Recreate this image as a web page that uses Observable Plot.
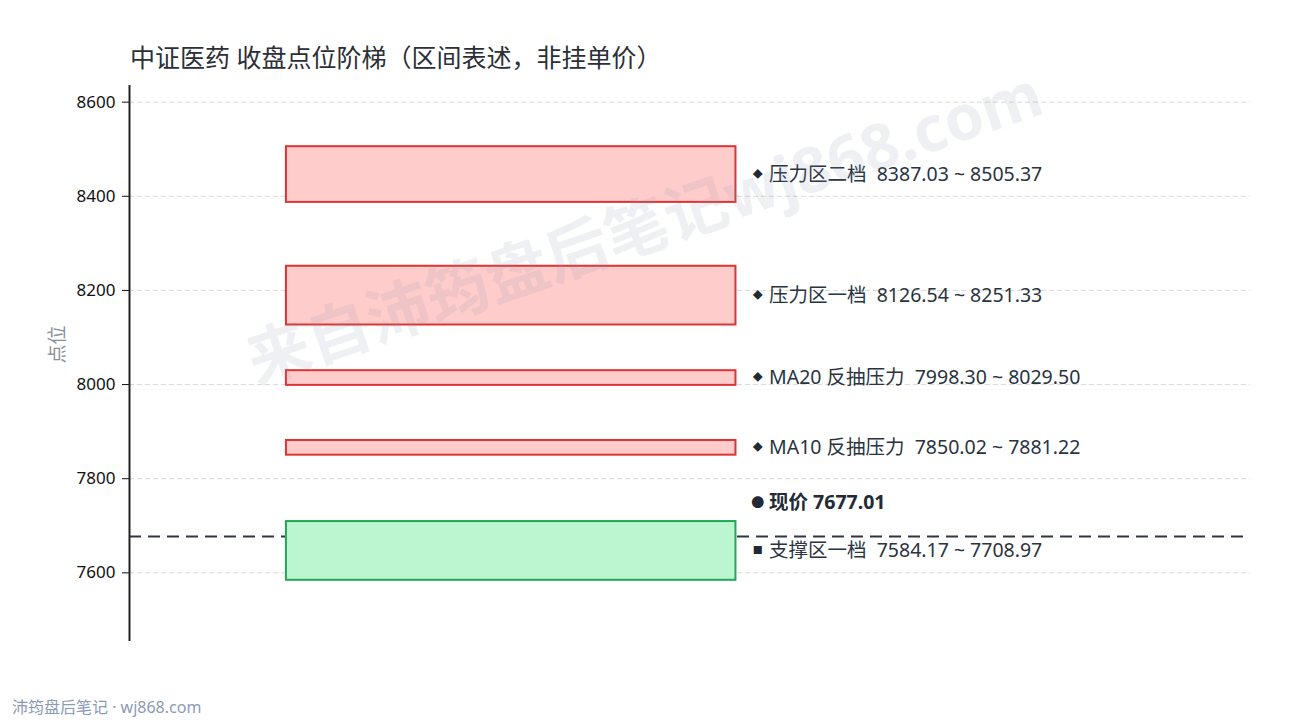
<!DOCTYPE html>
<html><head><meta charset="utf-8">
<script src="https://cdn.jsdelivr.net/npm/d3@7"></script>
<script src="https://cdn.jsdelivr.net/npm/@observablehq/plot@0.6"></script>
<style>
body{margin:0;background:#fff;font-family:"Noto Sans","Noto Sans CJK SC",sans-serif;}
#wrap{position:relative;width:1290px;height:720px;overflow:hidden;}
#title{position:absolute;left:130px;top:38px;font-size:25px;color:#2b2f36;white-space:nowrap;font-family:"Noto Sans","Noto Sans CJK SC",sans-serif;}
#footer{position:absolute;left:12px;top:694px;font-size:16px;color:#8c9bb5;white-space:pre;}
#chart{position:absolute;left:0;top:0;}
</style></head>
<body><div id="wrap"><div id="chart"></div>
<div id="title">中证医药 收盘点位阶梯（区间表述，非挂单价）</div>
<div id="footer">沛筠盘后笔记 · wj868.com</div></div>
<script>
const zoneNames = ["压力区二档", "压力区一档", "MA20 反抽压力", "MA10 反抽压力", "支撑区一档"];
const zoneLow = [8387.03, 8126.54, 7998.30, 7850.02, 7584.17];
const zoneHigh = [8505.37, 8251.33, 8029.50, 7881.22, 7708.97];
const zoneType = ["pressure", "pressure", "pressure", "pressure", "support"];
const currentPrice = 7677.01;
const yTicks = [7600, 7800, 8000, 8200, 8400, 8600];
const yLabel = "点位";
const watermark = "来自沛筠盘后笔记wj868.com";

const zones = zoneNames.map((n, i) => ({
  name: n, low: zoneLow[i], high: zoneHigh[i], type: zoneType[i],
  mid: (zoneLow[i] + zoneHigh[i]) / 2,
  marker: zoneType[i] === "support" ? "■" : "◆",
  label: `${n}\u00a0\u00a0${zoneLow[i].toFixed(2)}\u00a0~\u00a0${zoneHigh[i].toFixed(2)}`
}));
const boxX1 = 0.14, boxX2 = 0.541, markX = 0.5605, textX = 0.5705;
const fillOf = t => t === "support" ? "#bbf6d1" : "#ffcccc";
const strokeOf = t => t === "support" ? "#22a855" : "#e03333";
const font = '"Noto Sans","Noto Sans CJK SC",sans-serif';

const chart = Plot.plot({
  width: 1290, height: 720,
  marginLeft: 129, marginRight: 40, marginTop: 85, marginBottom: 79,
  style: {fontFamily: font, background: "transparent"},
  x: {domain: [0, 1], axis: null},
  y: {domain: [7454.17, 8635.37]},
  marks: [
    Plot.gridY(yTicks, {stroke: "#cfcfcf", strokeOpacity: 1, strokeDasharray: "5,3", strokeWidth: 0.8}),
    Plot.ruleY([currentPrice], {stroke: "#2f3640", strokeWidth: 2, strokeDasharray: "12,7"}),
    Plot.rect(zones, {x1: () => boxX1, x2: () => boxX2, y1: "low", y2: "high",
      fill: d => fillOf(d.type), stroke: d => strokeOf(d.type), strokeWidth: 2}),
    Plot.text(zones, {x: () => markX, y: "mid", text: "marker", fontSize: 10, fill: "#222a35", textAnchor: "middle"}),
    Plot.text(zones, {x: () => textX, y: "mid", text: "label", fontSize: 19.5, fill: "#2a3340", textAnchor: "start"}),
    Plot.text([currentPrice], {x: () => markX, y: d => d, dy: -34, text: () => "●", fontSize: 13, fill: "#222a35", textAnchor: "middle"}),
    Plot.text([currentPrice], {x: () => textX, y: d => d, dy: -34, text: d => `现价 ${d.toFixed(2)}`, fontSize: 19.5, fontWeight: "bold", fill: "#222a35", textAnchor: "start"}),
    Plot.axisY({ticks: yTicks, tickSize: 7, tickPadding: 7, fontSize: 17, color: "#111", label: null, tickFormat: d => String(d)}),
    Plot.ruleX([0], {stroke: "#222", strokeWidth: 2}),
    Plot.text([yLabel], {frameAnchor: "left", dx: -72, rotate: -90, fontSize: 19, fill: "#8a8f98"}),
    Plot.text([watermark], {frameAnchor: "middle", dx: -45, dy: -134, rotate: -19, fontSize: 63, fontWeight: "bold", fill: "#8a93ab", fillOpacity: 0.14})
  ]
});
document.getElementById("chart").appendChild(chart);
</script></body></html>
